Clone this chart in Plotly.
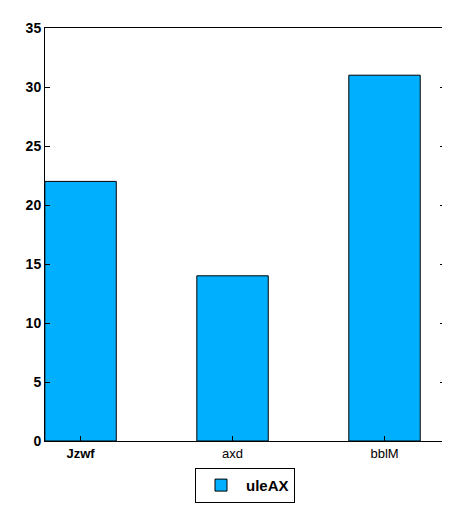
import plotly.graph_objects as go

categories = ['Jzwf', 'axd', 'bblM']
tick_text = ['<b>Jzwf</b>', 'axd', 'bblM']
values = [22, 14, 31]
y_ticks = [0, 5, 10, 15, 20, 25, 30, 35]

fig = go.Figure()
fig.add_bar(x=list(range(len(categories))), y=values, name='<b>uleAX</b>',
            width=0.47, marker=dict(color='#00B0FF', line=dict(color='black', width=1)))

fig.update_layout(
    width=450, height=525,
    margin=dict(l=37, r=13, t=20, b=92, autoexpand=False),
    plot_bgcolor='white', paper_bgcolor='white',
    font=dict(family='Liberation Sans, Arial', size=13, color='black'),
    showlegend=True,
    legend=dict(orientation='h', x=0.5, xanchor='center', y=-0.065, yanchor='top',
                bordercolor='black', borderwidth=1, font=dict(size=15), itemwidth=40),
)
fig.update_xaxes(range=[-0.234, 2.398], tickvals=list(range(len(categories))), ticktext=tick_text,
                 showline=True, linecolor='black', linewidth=1, mirror=True, automargin=False,
                 ticks='inside', ticklen=5, tickcolor='black', showgrid=False)
fig.update_yaxes(range=[0, 35], tickvals=y_ticks, ticktext=[f'<b>{v}</b>' for v in y_ticks],
                 showline=True, linecolor='black', linewidth=1, mirror='ticks', automargin=False,
                 ticks='inside', ticklen=5, tickcolor='black', showgrid=False, zeroline=False,
                 tickfont=dict(size=14))

fig.write_html("out.html")
